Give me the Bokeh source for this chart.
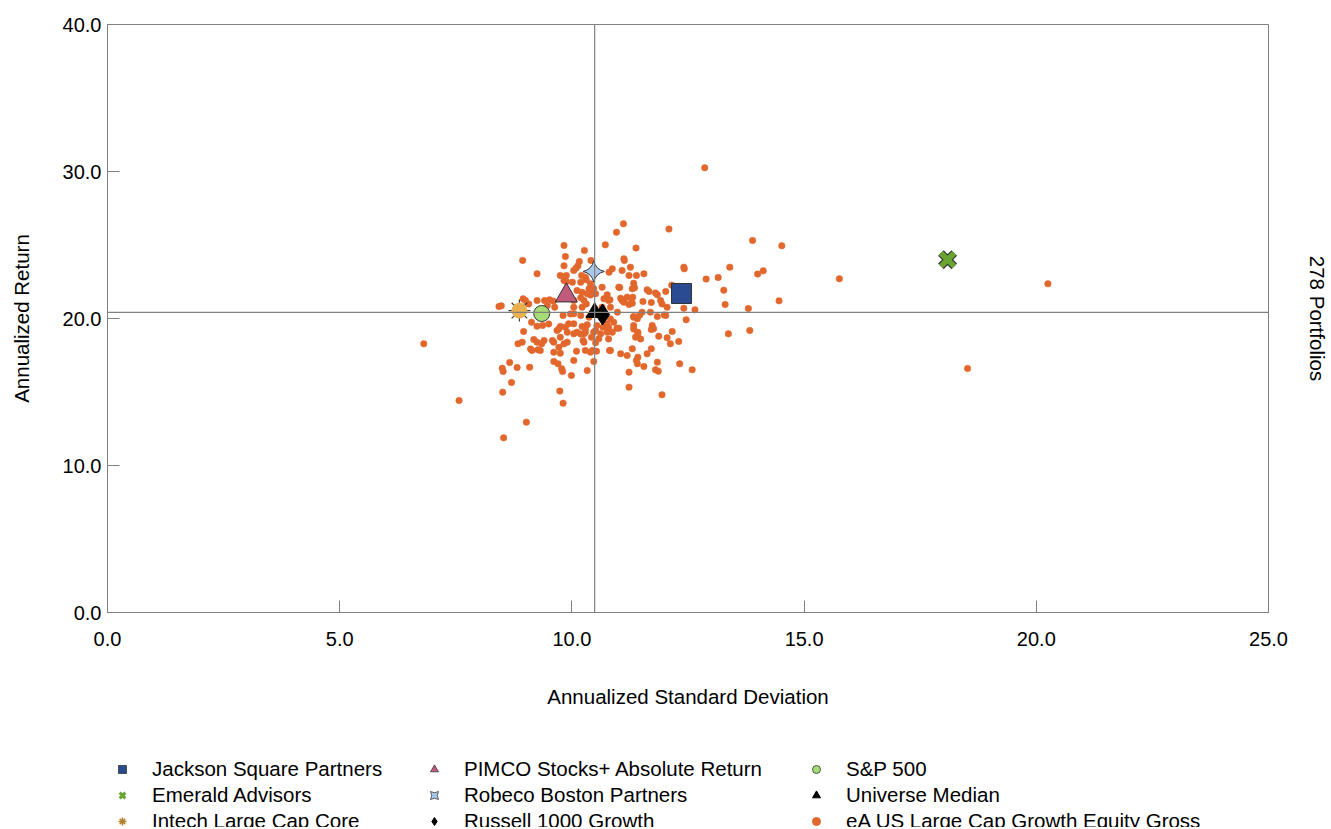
import numpy as np
from bokeh.plotting import figure
from bokeh.models import (Span, Legend, LegendItem, LinearAxis, FixedTicker,
                          NumeralTickFormatter, Range1d)
from bokeh.layouts import column
from bokeh.embed import file_html
from bokeh.resources import INLINE

# ---------------- data ----------------
universe_std = [
    12.86, 11.11, 10.96, 12.09, 9.83, 10.72, 11.38, 10.27, 8.94, 9.86, 11.12, 11.13, 10.16, 10.41,
    9.83, 10.13, 10.09, 10.04, 10.87, 10.80, 11.08, 11.26, 12.41, 12.42, 9.25, 9.75, 9.88, 9.83,
    10.21, 10.29, 10.31, 11.39, 11.55, 11.23, 12.89, 13.15, 9.88, 10.01, 10.19, 10.40, 11.33, 11.35,
    11.03, 10.65, 10.47, 10.37, 11.62, 11.66, 12.02, 12.15, 11.30, 10.22, 10.33, 10.44, 10.51, 10.76,
    10.69, 10.82, 11.05, 11.19, 11.31, 11.84, 11.91, 11.71, 11.53, 11.12, 11.23, 11.30, 12.05, 12.41,
    12.65, 8.95, 9.00, 8.43, 8.48, 9.07, 9.41, 9.52, 9.60, 9.47, 9.63, 10.04, 10.19, 10.26,
    10.31, 10.22, 10.04, 10.83, 10.65, 10.98, 11.51, 11.69, 11.84, 12.02, 12.46, 9.81, 10.04, 9.13,
    9.25, 9.37, 9.68, 9.75, 9.86, 9.93, 10.04, 10.22, 10.33, 10.51, 10.67, 10.75, 10.90, 11.01,
    10.76, 10.62, 10.87, 11.33, 11.41, 11.33, 11.42, 11.37, 11.73, 11.76, 11.87, 12.05, 12.16, 12.12,
    12.30, 11.71, 8.96, 8.84, 8.93, 9.18, 9.25, 9.40, 9.35, 9.61, 9.83, 9.90, 10.04, 10.11,
    10.26, 10.29, 10.42, 10.24, 10.58, 10.51, 9.14, 9.27, 9.75, 10.10, 10.29, 10.40, 10.53, 10.81,
    11.05, 11.19, 11.30, 11.42, 11.39, 11.62, 11.71, 10.04, 9.61, 9.70, 10.47, 10.33, 11.41, 11.55,
    11.84, 11.80, 11.86, 12.32, 12.59, 11.23, 8.66, 8.50, 8.52, 8.82, 9.09, 9.78, 9.80, 9.99,
    8.70, 11.23, 8.51, 9.74, 9.81, 11.94, 7.57, 6.81, 9.02, 8.53,
    13.89, 14.52, 13.40, 14.00, 14.12, 13.27, 13.30, 13.80, 14.46, 15.76, 20.25, 13.37, 13.83, 18.52,
    9.25, 10.11, 10.40, 9.97, 10.19, 10.37, 9.50, 9.72, 9.90, 10.19, 10.29, 10.47, 9.58, 9.75,
    9.11, 9.32, 9.72, 10.26, 10.44, 9.61, 11.01, 11.80, 10.79, 11.08, 11.28, 11.94, 11.46, 11.33,
    11.99, 10.83, 10.54, 10.79, 10.97, 11.33, 11.42, 11.48, 10.79, 10.83,
]
universe_ret = [
    30.25, 26.44, 25.87, 26.08, 24.97, 25.01, 24.79, 24.63, 23.95, 24.22, 24.06, 23.95, 23.88, 23.95,
    23.58, 23.58, 23.43, 23.27, 23.38, 23.15, 23.27, 23.49, 23.49, 23.38, 23.04, 22.93, 22.93, 22.59,
    22.93, 22.81, 22.63, 22.93, 23.04, 22.93, 22.68, 22.79, 22.52, 22.47, 22.47, 22.36, 22.40, 22.09,
    22.11, 22.13, 22.02, 22.02, 21.95, 21.84, 21.84, 22.27, 22.02, 21.79, 21.68, 21.73, 21.68, 21.61,
    21.34, 21.27, 21.38, 21.45, 21.45, 21.61, 21.22, 21.09, 21.16, 21.11, 20.95, 21.04, 20.77, 20.70,
    20.59, 21.34, 21.22, 20.82, 20.86, 20.99, 21.22, 21.27, 21.18, 20.89, 20.77, 21.22, 21.41, 21.22,
    20.99, 20.77, 20.77, 20.77, 20.77, 20.43, 20.43, 20.43, 20.14, 20.21, 19.91, 20.21, 20.32, 19.75,
    19.48, 19.53, 19.19, 19.46, 19.41, 19.64, 19.64, 19.46, 19.57, 19.19, 19.41, 19.64, 19.75, 19.34,
    19.07, 18.96, 19.07, 20.14, 19.98, 19.53, 18.96, 18.73, 19.53, 19.30, 18.80, 18.69, 19.12, 18.28,
    18.44, 19.25, 19.12, 18.28, 18.39, 18.57, 18.39, 18.51, 18.28, 18.39, 18.28, 18.39, 18.96, 19.07,
    18.96, 19.07, 18.73, 18.51, 18.62, 18.35, 17.83, 17.87, 17.64, 17.78, 17.83, 17.71, 17.78, 17.83,
    17.60, 17.48, 17.94, 17.37, 17.15, 17.60, 17.94, 17.15, 17.08, 16.92, 17.08, 16.46, 16.92, 16.74,
    17.03, 16.51, 16.42, 16.92, 16.51, 16.35, 17.01, 16.62, 16.40, 16.67, 16.69, 16.58, 16.40, 16.12,
    15.65, 15.33, 14.99, 15.06, 14.24, 14.81, 14.42, 18.28, 12.95, 11.88,
    25.31, 24.95, 23.49, 23.02, 23.24, 21.93, 20.95, 20.68, 21.20, 22.70, 22.36, 18.96, 19.19, 16.60,
    21.22, 21.90, 21.60, 20.31, 20.20, 20.09, 19.63, 19.29, 19.07, 18.95, 19.29, 19.07, 18.50, 18.73,
    17.93, 17.82, 18.04, 18.39, 17.82, 17.71, 22.13, 21.74, 21.22, 21.22, 21.06, 20.99, 20.24, 20.09,
    20.24, 19.97, 19.52, 19.41, 19.34, 19.29, 19.07, 18.61, 18.61, 17.82,
]

managers = ["Jackson Square Partners", "Emerald Advisors", "Intech Large Cap Core",
            "PIMCO Stocks+ Absolute Return", "Robeco Boston Partners", "Russell 1000 Growth",
            "S&P 500", "Universe Median"]
mgr_std = [12.36, 18.09, 8.87, 9.88, 10.47, 10.66, 9.35, 10.49]
mgr_ret = [21.70, 24.00, 20.54, 21.56, 23.20, 20.27, 20.34, 20.41]
universe_name = "eA US Large Cap Growth Equity Gross"
portfolio_count_label = "278 Portfolios"

x_ticks = [0, 5, 10, 15, 20, 25]
y_ticks = [0, 10, 20, 30, 40]

# ---------------- styles ----------------
FONT = "'Liberation Sans', Arial, sans-serif"
GRAY = "#808080"
EDGE = "#333333"
ORANGE = "#E2672C"
C_JS, C_EM, C_IN, C_PIM, C_ROB, C_SP = "#2A4A92", "#6AA533", "#EAB04E", "#C25A7C", "#A8C8EC", "#A6DC76"
W, H1, H2 = 1331, 735, 92

p = figure(width=W, height=H1, output_backend="svg", toolbar_location=None,
           x_range=Range1d(0, 25), y_range=Range1d(0, 40),
           min_border_left=107, min_border_right=63, min_border_top=24, min_border_bottom=H1 - 612,
           background_fill_color="white", border_fill_color="white")
p.grid.visible = False
p.outline_line_color = GRAY
p.outline_line_width = 1

for ax in (p.xaxis[0], p.yaxis[0]):
    ax.formatter = NumeralTickFormatter(format="0.0")
    ax.axis_line_color = GRAY
    ax.major_tick_line_color = GRAY
    ax.minor_tick_line_color = None
    ax.major_tick_in = 12
    ax.major_tick_out = 0
    ax.major_label_text_font = FONT
    ax.major_label_text_font_size = "20px"
    ax.major_label_text_color = "black"
    ax.axis_label_text_font = FONT
    ax.axis_label_text_font_size = "20.5px"
    ax.axis_label_text_font_style = "normal"
    ax.axis_label_text_color = "black"

p.xaxis[0].ticker = FixedTicker(ticks=x_ticks)
p.yaxis[0].ticker = FixedTicker(ticks=y_ticks)
p.xaxis[0].axis_label = "Annualized Standard Deviation"
p.yaxis[0].axis_label = "Annualized Return"
p.xaxis[0].major_label_standoff = 19
p.xaxis[0].axis_label_standoff = 36
p.yaxis[0].major_label_standoff = 6
p.yaxis[0].axis_label_standoff = 27

right = LinearAxis(axis_label=portfolio_count_label, ticker=FixedTicker(ticks=[]))
right.axis_line_color = None
right.major_tick_line_color = None
right.minor_tick_line_color = None
right.major_label_text_font_size = "0px"
right.axis_label_standoff = 37
right.axis_label_text_font = FONT
right.axis_label_text_font_size = "20.5px"
right.axis_label_text_font_style = "normal"
right.axis_label_text_color = "black"
p.add_layout(right, "right")

# crosshair at universe median
p.add_layout(Span(location=mgr_std[7], dimension="height", line_color=GRAY, line_width=1.2))
p.add_layout(Span(location=mgr_ret[7], dimension="width", line_color=GRAY, line_width=1.2))

p.scatter(universe_std, universe_ret, marker="circle", size=6.5,
          fill_color=ORANGE, line_color=ORANGE, line_width=0.5)

# Jackson Square
p.scatter([mgr_std[0]], [mgr_ret[0]], marker="square", size=20,
          fill_color=C_JS, line_color=EDGE, line_width=1)
# Emerald (filled X)
p.scatter([mgr_std[1]], [mgr_ret[1]], marker="x", size=19, line_color="#3a3a3a", line_width=8)
p.scatter([mgr_std[1]], [mgr_ret[1]], marker="x", size=19, line_color=C_EM, line_width=5.5)
# Intech (sunburst)
p.scatter([mgr_std[2]], [mgr_ret[2]], marker="asterisk", size=22, line_color="#3a3a3a", line_width=1.2)
p.scatter([mgr_std[2]], [mgr_ret[2]], marker="circle", size=15, fill_color=C_IN, line_color=C_IN)
# PIMCO
p.scatter([mgr_std[3]], [mgr_ret[3]], marker="triangle", size=22,
          fill_color=C_PIM, line_color=EDGE, line_width=1)
# Robeco (4-point star)
p.scatter([mgr_std[4]], [mgr_ret[4]], marker="square_pin", size=15, angle=np.pi / 4,
          fill_color=C_ROB, line_color=EDGE, line_width=1)
# S&P 500
p.scatter([mgr_std[6]], [mgr_ret[6]], marker="circle", size=16,
          fill_color=C_SP, line_color=EDGE, line_width=1)
# Universe median
p.scatter([mgr_std[7]], [mgr_ret[7]], marker="triangle", size=17,
          fill_color="black", line_color="black")
# Russell 1000 Growth
p.scatter([mgr_std[5]], [mgr_ret[5]], marker="diamond", size=21,
          fill_color="black", line_color="black")

# ---------------- legend figure ----------------
lf = figure(width=W, height=H2, output_backend="svg", toolbar_location=None,
            x_range=Range1d(0, W), y_range=Range1d(0, H2),
            min_border=0, outline_line_color=None, x_axis_type=None, y_axis_type=None)
lf.grid.visible = False
nan = [float("nan")]


def dummy(**kw):
    return lf.scatter(nan, nan, **kw)


leg_js = dummy(marker="square", size=9, fill_color=C_JS, line_color=EDGE, line_width=0.8)
leg_em = dummy(marker="x", size=8, line_color=C_EM, line_width=3)
leg_in = dummy(marker="asterisk", size=9, line_color="#B07F2A", line_width=1.5)
leg_pim = dummy(marker="triangle", size=10, fill_color=C_PIM, line_color=EDGE, line_width=0.8)
leg_rob = dummy(marker="square_pin", size=8, angle=np.pi / 4, fill_color=C_ROB, line_color=EDGE,
                line_width=0.8)
leg_ru = dummy(marker="diamond", size=11, fill_color="black", line_color="black")
leg_sp = dummy(marker="circle", size=9, fill_color=C_SP, line_color=EDGE, line_width=0.8)
leg_um = dummy(marker="triangle", size=10, fill_color="black", line_color="black")
leg_un = dummy(marker="circle", size=9, fill_color=ORANGE, line_color=ORANGE)


# the legend figure's frame is aligned with the main frame (starts 107px in)
def make_legend(items, x):
    lg = Legend(items=[LegendItem(label=lab, renderers=[r]) for lab, r in items],
                location=(x, -6), orientation="vertical",
                padding=0, margin=0, spacing=2, glyph_width=20, glyph_height=20,
                label_standoff=20, label_height=20,
                label_text_font=FONT, label_text_font_size="20.5px", label_text_color="black",
                border_line_color=None, background_fill_alpha=0)
    lf.add_layout(lg, "center")


make_legend([(managers[0], leg_js), (managers[1], leg_em), (managers[2], leg_in)], 5)
make_legend([(managers[3], leg_pim), (managers[4], leg_rob), (managers[5], leg_ru)], 317)
make_legend([(managers[6], leg_sp), (managers[7], leg_um), (universe_name, leg_un)], 699)

layout = column(p, lf, spacing=0)
open("out.html", "w").write(file_html(layout, INLINE))
